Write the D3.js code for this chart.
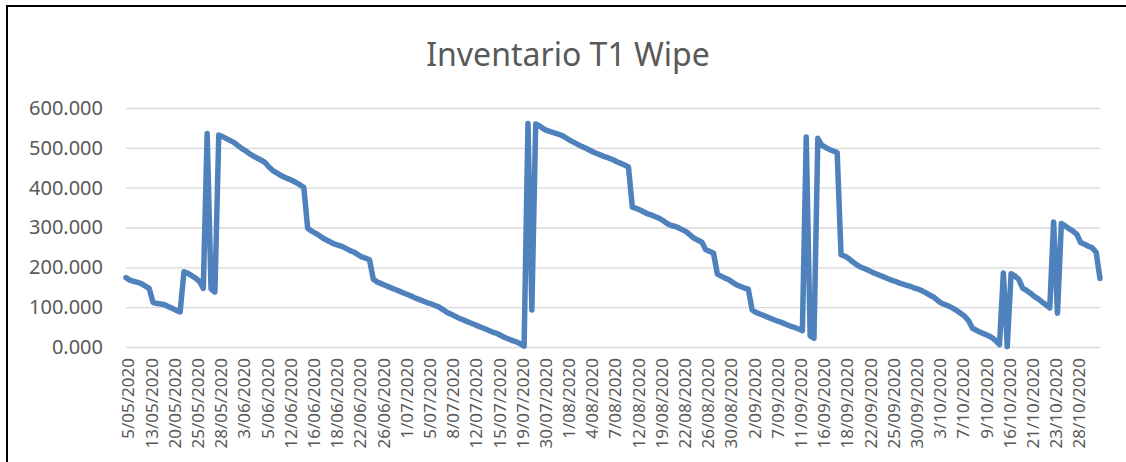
<!DOCTYPE html>
<html>
<head>
<meta charset="utf-8">
<script src="https://cdn.jsdelivr.net/npm/d3@7"></script>
<style>
  body { margin: 0; background: #fff; }
  text { font-family: "Noto Sans", sans-serif; fill: #595959; }
</style>
</head>
<body>
<svg id="chart"></svg>
<script>
// Chart title
var title = "Inventario T1 Wipe";

// Date labels shown on the category axis (one every 6 rows)
var tickLabels = ["5/05/2020", "13/05/2020", "20/05/2020", "25/05/2020", "28/05/2020", "3/06/2020",
  "5/06/2020", "12/06/2020", "16/06/2020", "18/06/2020", "22/06/2020", "26/06/2020", "1/07/2020",
  "5/07/2020", "8/07/2020", "12/07/2020", "15/07/2020", "19/07/2020", "30/07/2020", "1/08/2020",
  "4/08/2020", "7/08/2020", "12/08/2020", "19/08/2020", "22/08/2020", "26/08/2020", "30/08/2020",
  "2/09/2020", "7/09/2020", "11/09/2020", "16/09/2020", "18/09/2020", "22/09/2020", "25/09/2020",
  "30/09/2020", "3/10/2020", "7/10/2020", "9/10/2020", "16/10/2020", "21/10/2020", "23/10/2020",
  "28/10/2020"];
var rowsPerLabel = 6;

// Inventory values, one per row
var values = [174, 168, 165, 162, 159, 153, 147, 112, 109, 108, 106, 101, 97, 92, 88, 189, 185, 179, 173, 165,
  147, 536, 146, 138, 532, 528, 523, 518, 513, 505, 498, 492, 485, 479, 474, 469, 463, 452, 443, 437,
  431, 426, 422, 418, 413, 407, 401, 298, 291, 286, 280, 273, 268, 263, 258, 255, 252, 247, 242, 238,
  232, 226, 223, 219, 170, 163, 159, 155, 151, 147, 143, 139, 135, 131, 127, 122, 119, 115, 111, 108,
  104, 100, 94, 87, 83, 78, 73, 69, 65, 61, 57, 53, 49, 45, 41, 37, 34, 29, 24, 20,
  16, 13, 8, 2, 561, 93, 560, 555, 548, 543, 540, 537, 534, 530, 524, 518, 513, 508, 503, 499,
  494, 489, 485, 481, 477, 474, 470, 465, 461, 457, 452, 351, 348, 344, 339, 334, 331, 327, 323, 317,
  310, 305, 303, 299, 294, 289, 281, 273, 268, 263, 244, 240, 236, 183, 178, 173, 169, 162, 156, 152,
  148, 145, 93, 87, 83, 79, 75, 71, 67, 64, 60, 56, 52, 49, 45, 41, 527, 28, 22, 524,
  507, 501, 496, 492, 488, 232, 228, 222, 214, 207, 201, 197, 193, 188, 184, 180, 176, 172, 168, 165,
  161, 158, 155, 152, 148, 145, 141, 136, 130, 125, 117, 110, 106, 102, 97, 91, 84, 77, 66, 47,
  42, 37, 33, 29, 24, 16, 6, 186, 1, 184, 178, 170, 148, 142, 135, 127, 121, 113, 106, 98,
  314, 85, 310, 304, 297, 291, 283, 262, 258, 253, 249, 238, 172];

var yTicks = [0, 100, 200, 300, 400, 500, 600];

var W = 1126, H = 462;
var margin = { top: 108, right: 26, bottom: 115, left: 126 };
var width = W - margin.left - margin.right,
  height = H - margin.top - margin.bottom;

var svg = d3.select("#chart")
  .attr("width", W)
  .attr("height", H);

// outer frame of the chart
svg.append("rect")
  .attr("x", 7)
  .attr("y", 6)
  .attr("width", W + 10)
  .attr("height", H + 10)
  .style("fill", "none")
  .style("stroke", "#000")
  .style("stroke-width", 2);

svg.append("text")
  .attr("x", 568)
  .attr("y", 66)
  .style("text-anchor", "middle")
  .style("font-size", "32px")
  .text(title);

var g = svg.append("g")
  .attr("transform", "translate(" + margin.left + "," + margin.top + ")");

// scales
var x = d3.scaleLinear()
  .domain([0, tickLabels.length * rowsPerLabel])
  .range([0, width]);

var y = d3.scaleLinear()
  .domain([0, 600])
  .range([height, 0]);

// horizontal gridlines + y labels
var yAxis = g.append("g")
  .call(d3.axisLeft(y).tickValues(yTicks).tickSize(-width).tickFormat(d3.format(".3f")));
yAxis.select(".domain").remove();
yAxis.selectAll(".tick line")
  .style("stroke", "#d9d9d9")
  .style("stroke-width", 1.3);
yAxis.selectAll(".tick text")
  .attr("x", -23)
  .style("font-size", "20px")
  .style("font-family", "Noto Sans")
  .style("fill", "#595959");

// category labels, rotated
var xAxis = g.append("g")
  .attr("transform", "translate(0," + height + ")")
  .call(d3.axisBottom(x)
    .tickValues(d3.range(tickLabels.length).map(function(i) { return i * rowsPerLabel; }))
    .tickSize(0)
    .tickFormat(function(d) { return tickLabels[d / rowsPerLabel]; }));
xAxis.select(".domain").remove();
xAxis.selectAll(".tick text")
  .attr("transform", "rotate(-90)")
  .attr("x", -11)
  .attr("y", 2)
  .attr("dy", "0.35em")
  .style("text-anchor", "end")
  .style("font-size", "17px")
  .style("font-family", "Noto Sans")
  .style("fill", "#595959");

// the inventory line
var line = d3.line()
  .x(function(d, i) { return x(i); })
  .y(function(d) { return y(d); });

g.append("path")
  .datum(values)
  .attr("d", line)
  .style("fill", "none")
  .style("stroke", "#4f81bd")
  .style("stroke-width", 5.5)
  .style("stroke-linejoin", "round")
  .style("stroke-linecap", "round");
</script>
</body>
</html>
